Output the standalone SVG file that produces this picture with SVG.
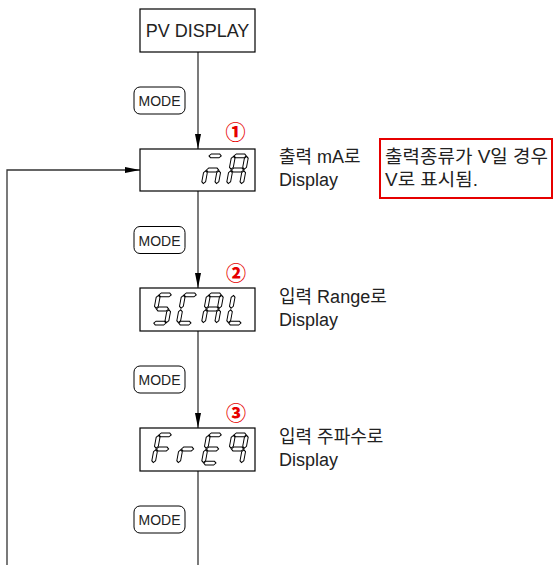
<svg xmlns="http://www.w3.org/2000/svg" xmlns:xlink="http://www.w3.org/1999/xlink" width="553" height="565" viewBox="0 0 553 565">
<style>
.box{fill:#fff;stroke:#000;stroke-width:1.2}
.btn{fill:#fff;stroke:#000;stroke-width:1}
.ln{fill:none;stroke:#333;stroke-width:1.3}
.seg{fill:#fff;stroke:#000;stroke-width:1}
.t{font-family:"Liberation Sans","Noto Sans CJK KR",sans-serif;fill:#222}
.lbl{font-size:18px}
.mode{font-size:15px;text-anchor:middle}
.num{font-family:"Noto Sans CJK KR",sans-serif;font-weight:900;fill:#e60000;font-size:20px;text-anchor:middle}
.note{fill:#fff;stroke:#e60000;stroke-width:2}
</style>
<defs>
<marker id="arr" viewBox="0 0 15 6" refX="15" refY="3" markerWidth="15" markerHeight="6" markerUnits="userSpaceOnUse" orient="auto">
<path d="M0,0 L15,3 L0,6 z" fill="#000"/>
</marker>
<polygon id="sa" class="seg" points="2.4,1.9 4.3,0 12.7,0 14.6,1.9 12.7,3.8 4.3,3.8"/>
<polygon id="sg" class="seg" points="2.4,16 4.3,14.1 12.7,14.1 14.6,16 12.7,17.9 4.3,17.9"/>
<polygon id="sd" class="seg" points="2.4,30.1 4.3,28.2 12.7,28.2 14.6,30.1 12.7,32 4.3,32"/>
<polygon id="sf" class="seg" points="1.9,2.4 3.8,4.3 3.8,13.3 1.9,15.2 0,13.3 0,4.3"/>
<polygon id="sb" class="seg" points="15.1,2.4 17,4.3 17,13.3 15.1,15.2 13.2,13.3 13.2,4.3"/>
<polygon id="se" class="seg" points="1.9,16.8 3.8,18.7 3.8,27.7 1.9,29.6 0,27.7 0,18.7"/>
<polygon id="sc" class="seg" points="15.1,16.8 17,18.7 17,27.7 15.1,29.6 13.2,27.7 13.2,18.7"/>
</defs>

<g id="connectors">
<line class="ln" x1="198" y1="52" x2="198" y2="149" marker-end="url(#arr)"/>
<line class="ln" x1="198" y1="191" x2="198" y2="288" marker-end="url(#arr)"/>
<line class="ln" x1="198" y1="331" x2="198" y2="428" marker-end="url(#arr)"/>
<line class="ln" x1="198" y1="471" x2="198" y2="565"/>
<polyline class="ln" points="7,565 7,170 140,170" marker-end="url(#arr)"/>
</g>

<g id="node-pv">
<rect class="box" x="140" y="9" width="115" height="43"/>
<text class="t" x="197.5" y="37" font-size="18" text-anchor="middle">PV DISPLAY</text>
</g>

<g id="node-mode1">
<rect class="btn" x="134" y="87" width="51" height="27" rx="6"/>
<text class="t mode" x="159.5" y="106" textLength="42" lengthAdjust="spacingAndGlyphs">MODE</text>
</g>
<g id="node-mode2">
<rect class="btn" x="134" y="226.5" width="51" height="27" rx="6"/>
<text class="t mode" x="159.5" y="245.5" textLength="42" lengthAdjust="spacingAndGlyphs">MODE</text>
</g>
<g id="node-mode3">
<rect class="btn" x="134" y="366" width="51" height="27" rx="6"/>
<text class="t mode" x="159.5" y="385" textLength="42" lengthAdjust="spacingAndGlyphs">MODE</text>
</g>
<g id="node-mode4">
<rect class="btn" x="134" y="506" width="51" height="27" rx="6"/>
<text class="t mode" x="159.5" y="525" textLength="42" lengthAdjust="spacingAndGlyphs">MODE</text>
</g>

<g id="node-disp1">
<rect class="box" x="140" y="149" width="115" height="42"/>
<g transform="translate(207,154) skewX(-10.6)"><use href="#sa"/><use href="#sg"/><use href="#se"/><use href="#sc"/></g>
<g transform="translate(232,154) skewX(-10.6)"><use href="#sa"/><use href="#sb"/><use href="#sc"/><use href="#se"/><use href="#sf"/><use href="#sg"/></g>
<text class="num" x="235.5" y="140">①</text>
</g>

<g id="node-disp2">
<rect class="box" x="140" y="288" width="115" height="43"/>
<g transform="translate(157,293) skewX(-10.6)"><use href="#sa"/><use href="#sf"/><use href="#sg"/><use href="#sc"/><use href="#sd"/></g>
<g transform="translate(182,293) skewX(-10.6)"><use href="#sa"/><use href="#sf"/><use href="#se"/><use href="#sd"/></g>
<g transform="translate(207,293) skewX(-10.6)"><use href="#sa"/><use href="#sb"/><use href="#sc"/><use href="#se"/><use href="#sf"/><use href="#sg"/></g>
<g transform="translate(232,293) skewX(-10.6)"><use href="#sf"/><use href="#se"/><use href="#sd"/></g>
<text class="num" x="236" y="280.5">②</text>
</g>

<g id="node-disp3">
<rect class="box" x="140" y="428" width="115" height="43"/>
<g transform="translate(157,433) skewX(-10.6)"><use href="#sa"/><use href="#sf"/><use href="#sg"/><use href="#se"/></g>
<g transform="translate(182,433) skewX(-10.6)"><use href="#se"/><use href="#sg"/></g>
<g transform="translate(207,433) skewX(-10.6)"><use href="#sa"/><use href="#sf"/><use href="#sg"/><use href="#se"/><use href="#sd"/></g>
<g transform="translate(232,433) skewX(-10.6)"><use href="#sa"/><use href="#sb"/><use href="#sf"/><use href="#sg"/><use href="#sc"/></g>
<text class="num" x="236" y="420.5">③</text>
</g>

<g id="labels">
<text class="t lbl" x="279" y="163">출력 mA로</text>
<text class="t lbl" x="279" y="186">Display</text>
<text class="t lbl" x="279" y="303">입력 Range로</text>
<text class="t lbl" x="279" y="326">Display</text>
<text class="t lbl" x="279" y="443">입력 주파수로</text>
<text class="t lbl" x="279" y="466">Display</text>
</g>

<g id="note">
<rect class="note" x="380" y="139" width="172" height="59"/>
<text class="t lbl" x="385" y="163" textLength="163" lengthAdjust="spacingAndGlyphs">출력종류가 V일 경우</text>
<text class="t lbl" x="385" y="186" textLength="93" lengthAdjust="spacingAndGlyphs">V로 표시됨.</text>
</g>
</svg>
